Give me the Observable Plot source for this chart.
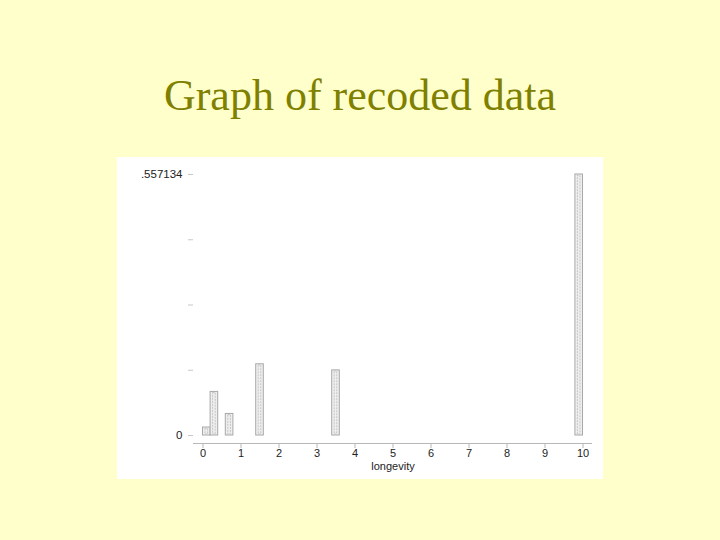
<!DOCTYPE html>
<html>
<head>
<meta charset="utf-8">
<script src="https://cdn.jsdelivr.net/npm/d3@7"></script>
<script src="https://cdn.jsdelivr.net/npm/@observablehq/plot@0.6"></script>
<style>
  html, body { margin: 0; padding: 0; }
  body { width: 720px; height: 540px; background: #ffffcc; position: relative; overflow: hidden; }
  #title { position: absolute; left: 0; top: 74px; width: 720px; text-align: center;
    font-family: "Liberation Serif", "DejaVu Serif", serif; font-size: 44px; line-height: 44px; color: #808000; }
  #chart { position: absolute; left: 117px; top: 157px; }
  #chart svg { background: #ffffff; display: block; }
</style>
</head>
<body>
<div id="title">Graph of recoded data</div>
<div id="chart"></div>
<script>
// Histogram bins of recoded longevity (bin start, bin end, fraction)
const binStart = [0, 0.2, 0.6, 1.4, 3.4, 9.8];
const binEnd   = [0.2, 0.4, 0.8, 1.6, 3.6, 10.0];
const fraction = [0.017, 0.093, 0.046, 0.152, 0.139, 0.557134];
const xTicks = [0, 1, 2, 3, 4, 5, 6, 7, 8, 9, 10];
const yMax = 0.557134;
const yTicks = [0, yMax / 4, yMax / 2, yMax * 3 / 4, yMax];
const yTickLabels = ["0", "", "", "", ".557134"];

const data = binStart.map((s, i) => ({x1: s, x2: binEnd[i], y: fraction[i]}));

const chart = Plot.plot({
  width: 486,
  height: 322,
  marginLeft: 76,
  marginRight: 11,
  marginTop: 17,
  marginBottom: 44,
  style: {background: "#ffffff", fontFamily: "Arial, 'Liberation Sans', sans-serif", fontSize: "11px", color: "#222"},
  x: {domain: [-0.25, 10.25]},
  y: {domain: [0, yMax]},
  marks: [
    Plot.rectY(data, {x1: "x1", x2: "x2", y1: 0, y2: "y", fill: "#efefef", stroke: "#a8a8a8", strokeWidth: 1}),
    Plot.rectY(data, {x1: "x1", x2: "x2", y1: 0, y2: "y", fill: "none", stroke: "#c4c4c4", strokeWidth: 1,
      strokeDasharray: "2,1", insetLeft: 2.5, insetRight: 2.5, insetTop: 1, insetBottom: 1}),
    Plot.axisY({ticks: yTicks, tickSize: 5, tickPadding: 6, stroke: "#c8c8c8",
      tickFormat: (d, i) => yTickLabels[i], label: null, fill: "#222", fontSize: 11.5}),
    Plot.ruleY([0], {dy: 8, stroke: "#b8b8b8"}),
    Plot.axisX({ticks: xTicks, tickSize: 5, tickPadding: 1, stroke: "#b8b8b8", dy: 8,
      tickFormat: d => String(d), label: null, fill: "#222", fontSize: 11}),
    Plot.text(["longevity"], {frameAnchor: "bottom", dy: 34, text: d => d, fill: "#222", fontSize: 11})
  ]
});
document.getElementById("chart").appendChild(chart);
</script>
</body>
</html>
